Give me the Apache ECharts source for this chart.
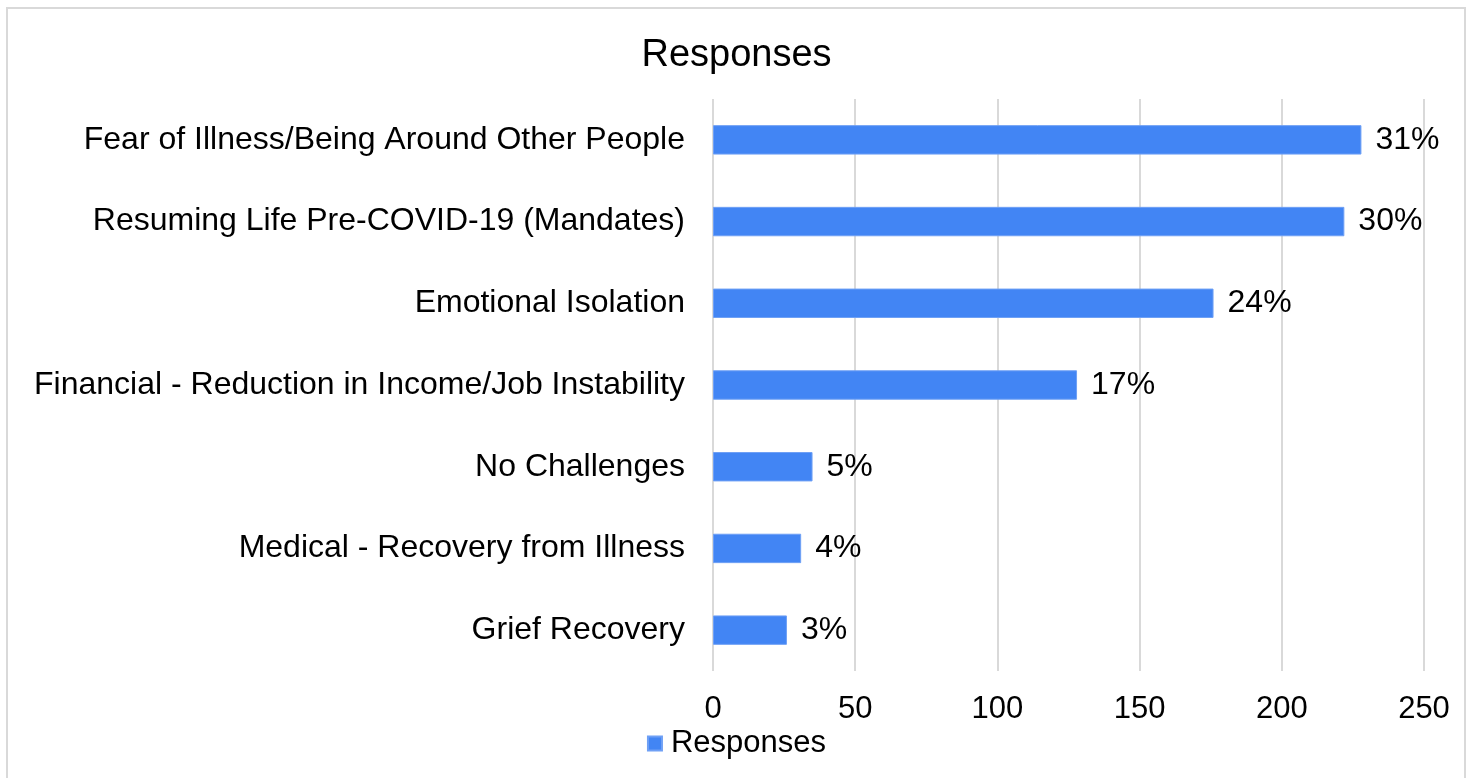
<!DOCTYPE html>
<html>
<head>
<meta charset="utf-8">
<script src="https://cdn.jsdelivr.net/npm/echarts@6/dist/echarts.min.js"></script>
<style>
html,body{margin:0;padding:0;background:#fff;}
#chart{width:1473px;height:778px;}
</style>
</head>
<body>
<div id="chart"></div>
<script>
const categories = [
  "Fear of Illness/Being Around Other People",
  "Resuming Life Pre-COVID-19 (Mandates)",
  "Emotional Isolation",
  "Financial - Reduction in Income/Job Instability",
  "No Challenges",
  "Medical - Recovery from Illness",
  "Grief Recovery"
];
const responses = [228, 222, 176, 128, 35, 31, 26];
const percentLabels = ["31%", "30%", "24%", "17%", "5%", "4%", "3%"];
const xTicks = [0, 50, 100, 150, 200, 250];

const FONT = '"Liberation Sans", Arial, sans-serif';
const chart = echarts.init(document.getElementById('chart'));
chart.setOption({
  backgroundColor: '#ffffff',
  animation: false,
  graphic: [{
    type: 'rect',
    shape: { x: 7, y: 8, width: 1458, height: 800 },
    style: { fill: 'none', stroke: '#d9d9d9', lineWidth: 2 },
    silent: true
  }],
  title: {
    text: 'Responses',
    left: 'center',
    top: 32,
    textStyle: { fontFamily: FONT, fontSize: 38, fontWeight: 'normal', color: '#000' }
  },
  legend: {
    bottom: 14,
    left: 'center',
    icon: 'rect',
    itemWidth: 14,
    itemHeight: 14,
    itemGap: 8,
    textStyle: { fontFamily: FONT, fontSize: 31, color: '#000', padding: [0, 0, 0, 4] },
    data: ['Responses']
  },
  grid: { left: 713, right: 49, top: 99, bottom: 107, containLabel: false },
  xAxis: {
    type: 'value',
    min: xTicks[0],
    max: xTicks[xTicks.length - 1],
    interval: 50,
    axisLine: { show: false },
    axisTick: { show: false },
    splitLine: { show: true, lineStyle: { color: '#d9d9d9', width: 2 } },
    axisLabel: { fontFamily: FONT, fontSize: 31, color: '#000', margin: 23 }
  },
  yAxis: {
    type: 'category',
    inverse: true,
    data: categories,
    axisLine: { show: false },
    axisTick: { show: false },
    axisLabel: { fontFamily: FONT, fontSize: 32, color: '#000', margin: 28 }
  },
  series: [{
    name: 'Responses',
    type: 'bar',
    data: responses,
    barCategoryGap: '64%',
    itemStyle: { color: '#4285f4', borderColor: '#6fa0f5', borderWidth: 1 },
    label: {
      show: true,
      position: 'right',
      distance: 14,
      fontFamily: FONT,
      fontSize: 32,
      color: '#000',
      formatter: p => percentLabels[p.dataIndex]
    }
  }]
});
</script>
</body>
</html>
